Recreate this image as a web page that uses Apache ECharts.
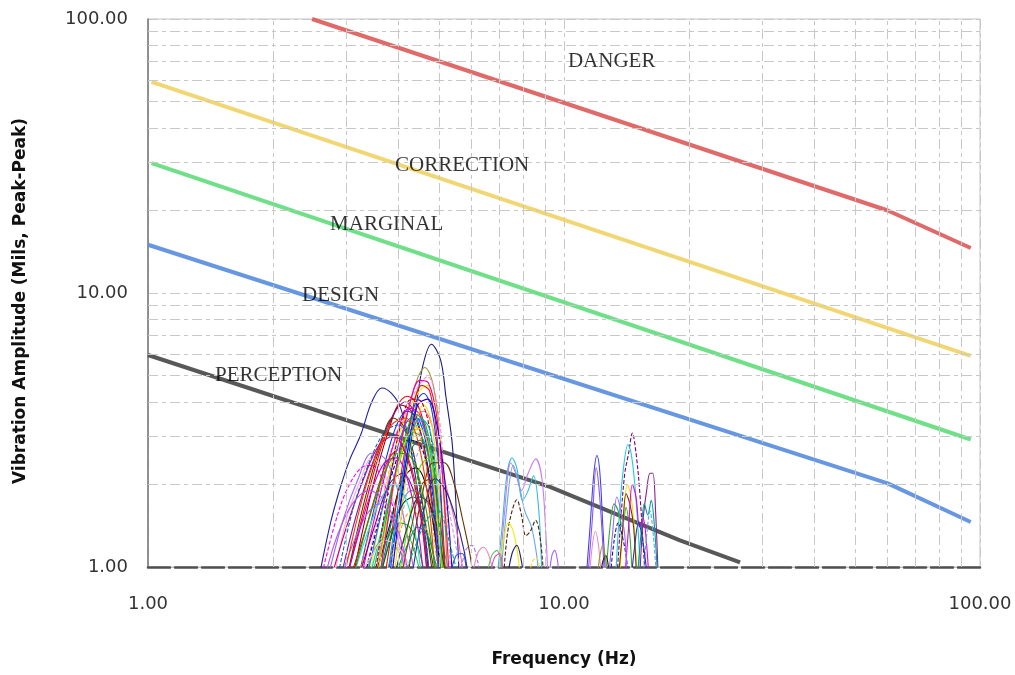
<!DOCTYPE html>
<html>
<head>
<meta charset="utf-8">
<script src="https://cdn.jsdelivr.net/npm/echarts@6/dist/echarts.min.js"></script>
<style>html,body{margin:0;padding:0;background:#fff}#c{width:1015px;height:675px}</style>
</head>
<body>
<div id="c"></div>
<script>
// ---- axis ranges / grid values ----
const axisMin = 1, axisMax = 100;
const minorGridX = [2,3,4,5,6,7,8,9,20,30,40,50,60,70,80,90];
const minorGridY = [2,3,4,5,6,7,8,9,20,30,40,50,60,70,80,90];

// ---- severity lines [frequency Hz, amplitude mils] ----
const dangerLine = [[2.48,100],[60,20],[95,14.6]];
const correctionLine = [[1.02,59],[95,5.9]];
const marginalLine = [[1.02,29.8],[95,2.92]];
const designLine = [[1.0,15],[60,2.02],[95,1.46]];
const perceptionLine = [[1.0,5.94],[9.25,1.96],[19,1.25],[26.5,1.04]];

// ---- zone labels ----
const zoneLabels = [
  {name:'DANGER', value:[10.22,69.7]},
  {name:'CORRECTION', value:[3.925,29.3]},
  {name:'MARGINAL', value:[2.74,17.86]},
  {name:'DESIGN', value:[2.346,9.83]},
  {name:'PERCEPTION', value:[1.449,5.02]}
];

const mainCluster = [
  [[3.75,0.9],[4.05,1.7],[4.35,3.3],[4.55,5.2],[4.8,6.5],[5.05,5.7],[5.2,4.2],[5.4,2.7],[5.6,0.9]],
  [[2.57,0.9],[2.75,1.46],[2.9,1.95],[3.05,2.45],[3.25,3.05],[3.45,4.0],[3.65,4.5],[3.85,4.3],[4.05,3.8],[4.3,2.6],[4.55,1.5],[4.75,0.9]],
  [[3.6,0.9],[3.9,2.0],[4.2,3.6],[4.45,4.9],[4.63,5.35],[4.85,4.6],[5.05,2.8],[5.25,0.9]],
  [[3.3,0.9],[3.7,1.9],[4.1,3.4],[4.4,4.4],[4.7,4.95],[4.95,4.0],[5.15,2.2],[5.35,0.9]],
  [[3.4,0.9],[3.8,2.2],[4.15,3.5],[4.45,4.3],[4.68,4.6],[4.9,3.9],[5.1,2.4],[5.3,0.9]],
  [[3.0,0.9],[3.3,1.6],[3.6,2.6],[3.95,3.8],[4.2,4.2],[4.45,3.9],[4.7,2.9],[4.95,1.6],[5.15,0.9]],
  [[3.1,0.9],[3.45,1.9],[3.8,3.2],[4.05,3.9],[4.3,3.7],[4.6,2.8],[4.85,1.6],[5.0,0.9]],
  [[3.2,0.9],[3.55,1.8],[3.9,3.1],[4.2,3.7],[4.5,3.4],[4.75,2.4],[4.95,1.3],[5.1,0.9]],
  [[2.9,0.9],[3.15,1.5],[3.5,2.5],[3.85,3.5],[4.15,4.0],[4.4,3.6],[4.65,2.5],[4.9,1.3],[5.0,0.9]],
  [[2.6,0.9],[2.8,1.4],[3.0,1.9],[3.25,2.3],[3.45,2.35],[3.7,2.0],[3.95,1.5],[4.2,0.9]],
  [[2.7,0.9],[2.95,1.5],[3.2,2.1],[3.45,2.6],[3.7,2.5],[3.95,2.0],[4.2,1.3],[4.4,0.9]],
  [[3.5,0.9],[3.75,1.25],[4.0,1.45],[4.25,1.4],[4.45,1.2],[4.65,0.9]],
  [[3.3,0.9],[3.55,1.2],[3.8,1.3],[4.0,1.15],[4.2,1.3],[4.4,1.1],[4.55,0.9]],
  [[3.4,0.9],[3.7,1.5],[4.0,2.4],[4.3,3.2],[4.55,3.3],[4.8,2.5],[5.0,1.3],[5.15,0.9]],
  [[3.6,0.9],[3.9,1.6],[4.2,2.5],[4.5,2.9],[4.75,2.6],[4.95,1.7],[5.15,0.9]],
  [[3.2,0.9],[3.5,1.6],[3.85,2.7],[4.15,3.4],[4.4,3.3],[4.65,2.4],[4.9,1.2],[5.0,0.9]],
  [[3.0,0.9],[3.3,1.7],[3.6,2.7],[3.88,3.5],[4.1,3.3],[4.35,2.6],[4.6,1.6],[4.85,0.9]],
  [[3.5,0.9],[3.8,1.4],[4.1,2.1],[4.4,2.3],[4.65,2.0],[4.9,1.3],[5.05,0.9]],
  [[2.8,0.9],[3.0,1.5],[3.25,2.1],[3.45,2.5],[3.65,2.3],[3.9,1.7],[4.1,1.1],[4.2,0.9]],
  [[3.6,0.9],[3.95,1.5],[4.3,1.9],[4.6,1.8],[4.85,1.5],[5.1,1.2],[5.35,0.9]],
  [[3.5,0.9],[3.9,2.0],[4.3,3.4],[4.6,3.7],[4.9,3.0],[5.2,2.0],[5.5,1.4],[5.75,0.9]],
  [[3.8,0.9],[4.1,1.6],[4.45,2.6],[4.75,2.9],[5.05,2.3],[5.3,1.6],[5.55,1.1],[5.7,0.9]],
  [[3.7,0.9],[4.0,1.9],[4.3,3.6],[4.55,4.6],[4.75,4.4],[4.95,3.0],[5.1,1.5],[5.2,0.9]],
  [[3.8,0.9],[4.1,2.2],[4.35,3.8],[4.6,4.3],[4.8,3.8],[5.0,2.3],[5.15,0.9]],
  [[3.45,0.9],[3.75,1.6],[4.05,2.5],[4.35,3.1],[4.6,2.9],[4.85,2.0],[5.05,1.1],[5.15,0.9]],
  [[3.25,0.9],[3.6,1.8],[3.95,3.0],[4.25,3.8],[4.5,3.6],[4.75,2.6],[4.95,1.3],[5.05,0.9]],
  [[3.9,0.9],[4.15,2.0],[4.4,3.3],[4.6,3.9],[4.8,3.4],[5.0,1.9],[5.15,0.9]],
  [[3.3,0.9],[3.6,1.5],[3.9,2.3],[4.2,2.9],[4.5,2.8],[4.8,2.0],[5.0,1.1],[5.1,0.9]],
  [[3.6,0.9],[3.85,1.3],[4.1,1.7],[4.35,1.8],[4.6,1.5],[4.8,1.1],[4.9,0.9]],
  [[3.1,0.9],[3.35,1.3],[3.65,1.8],[3.9,2.0],[4.15,1.8],[4.4,1.3],[4.55,0.9]],
  [[3.2,0.9],[3.5,1.4],[3.8,2.0],[4.1,2.2],[4.35,1.9],[4.6,1.4],[4.75,0.9]],
  [[3.05,0.9],[3.3,1.3],[3.55,1.9],[3.8,2.5],[4.05,2.7],[4.3,2.3],[4.55,1.5],[4.7,0.9]],
  [[3.35,0.9],[3.65,1.6],[4.0,2.8],[4.3,3.5],[4.55,3.4],[4.8,2.2],[5.0,0.9]],
  [[3.7,0.9],[4.0,1.3],[4.3,1.6],[4.55,1.5],[4.8,1.2],[4.95,0.9]],
  [[3.9,0.9],[4.2,1.2],[4.45,1.4],[4.7,1.3],[4.9,1.05],[5.0,0.9]],
  [[4.0,0.9],[4.25,1.5],[4.5,2.3],[4.72,2.5],[4.9,2.0],[5.05,1.2],[5.15,0.9]],
  [[3.9,0.9],[4.2,1.4],[4.5,1.8],[4.75,1.7],[5.0,1.3],[5.2,0.9]],
  [[2.9,0.9],[3.1,1.2],[3.35,1.55],[3.6,1.7],[3.85,1.5],[4.05,1.15],[4.15,0.9]],
  [[3.0,0.9],[3.2,1.3],[3.45,1.9],[3.7,2.4],[3.95,2.5],[4.2,2.1],[4.45,1.4],[4.6,0.9]],
  [[3.5,0.9],[3.8,2.0],[4.05,3.3],[4.3,4.1],[4.55,4.0],[4.8,2.9],[5.0,1.4],[5.1,0.9]],
  [[3.55,0.9],[3.85,1.9],[4.15,3.0],[4.4,3.6],[4.65,3.3],[4.9,2.1],[5.05,0.9]],
  [[3.2,0.9],[3.45,1.1],[3.7,1.25],[3.95,1.2],[4.2,1.05],[4.3,0.9]],
  [[4.05,0.9],[4.3,1.4],[4.55,2.0],[4.8,2.1],[5.0,1.6],[5.2,0.9]],
  [[3.75,0.9],[4.0,1.7],[4.25,2.8],[4.5,3.5],[4.75,3.2],[4.95,2.0],[5.1,0.9]],
  [[3.55,0.9],[3.85,1.8],[4.2,3.0],[4.5,3.2],[4.75,2.6],[5.0,1.3],[5.1,0.9]],
  [[5.6,0.9],[5.8,1.15],[6.0,1.2],[6.2,1.05],[6.3,0.9]],
  [[6.0,0.9],[6.2,1.12],[6.4,1.18],[6.6,1.1],[6.8,0.9]],
  [[5.3,0.9],[5.5,1.1],[5.7,1.12],[5.85,0.9]],
  [[4.3,0.9],[4.6,1.6],[4.9,2.1],[5.2,1.9],[5.5,1.5],[5.75,1.15],[5.9,0.9]],
  [[4.2,0.9],[4.55,1.8],[4.85,2.4],[5.15,2.4],[5.45,2.0],[5.7,1.5],[5.95,1.1],[6.05,0.9]],
  [[2.75,0.9],[3.0,1.4],[3.3,2.1],[3.6,2.8],[3.9,3.0],[4.2,2.5],[4.5,1.6],[4.7,0.9]],
  [[2.85,0.9],[3.1,1.6],[3.4,2.4],[3.7,3.1],[4.0,3.3],[4.3,2.7],[4.6,1.5],[4.75,0.9]],
  [[2.95,0.9],[3.25,1.7],[3.55,2.6],[3.85,3.3],[4.15,3.5],[4.45,2.9],[4.75,1.6],[4.9,0.9]],
  [[3.1,0.9],[3.4,1.5],[3.7,2.2],[4.0,2.6],[4.3,2.5],[4.6,1.8],[4.85,1.1],[4.95,0.9]],
  [[3.6,0.9],[3.95,2.3],[4.25,3.9],[4.5,4.8],[4.72,4.7],[4.95,3.5],[5.15,1.8],[5.3,0.9]],
  [[3.85,0.9],[4.2,2.6],[4.45,3.9],[4.7,4.1],[4.95,3.3],[5.2,1.9],[5.4,0.9]],
  [[2.65,0.9],[2.85,1.3],[3.1,1.7],[3.4,1.9],[3.7,1.75],[4.0,1.35],[4.25,0.9]],
  [[4.1,0.9],[4.4,1.2],[4.7,1.5],[5.0,1.6],[5.25,1.3],[5.45,1.05],[5.6,0.9]]
];
const midCluster = [
  [[6.9,0.9],[7.1,1.4],[7.3,2.2],[7.5,2.5],[7.7,2.3],[7.95,1.75],[8.2,1.9],[8.45,2.15],[8.7,1.6],[8.85,0.9]],
  [[7.0,0.9],[7.2,1.6],[7.45,2.4],[7.65,2.2],[7.9,1.9],[8.2,2.2],[8.55,2.48],[8.85,2.1],[9.05,1.3],[9.15,0.9]],
  [[7.05,0.9],[7.3,1.7],[7.55,2.35],[7.8,2.0],[8.05,1.6],[8.35,1.4],[8.6,1.1],[8.7,0.9]],
  [[7.15,0.9],[7.3,1.3],[7.5,1.6],[7.7,1.76],[7.9,1.55],[8.1,1.3],[8.3,1.35],[8.55,1.48],[8.75,1.3],[8.95,0.9]],
  [[6.95,0.9],[7.15,1.25],[7.35,1.45],[7.55,1.35],[7.75,1.1],[7.85,0.9]],
  [[7.3,0.9],[7.5,1.12],[7.7,1.2],[7.9,1.05],[8.0,0.9]],
  [[9.2,0.9],[9.35,1.1],[9.5,1.15],[9.65,1.05],[9.75,0.9]],
  [[6.5,0.9],[6.7,1.1],[6.9,1.15],[7.1,1.0],[7.2,0.9]],
  [[6.6,0.9],[6.8,1.08],[7.0,1.12],[7.15,0.9]],
  [[8.2,0.9],[8.4,1.05],[8.6,1.08],[8.8,0.9]]
];
const rightCluster = [
  [[11.3,0.9],[11.55,1.4],[11.8,2.2],[12.0,2.55],[12.2,2.2],[12.4,1.4],[12.6,0.9]],
  [[11.4,0.9],[11.7,1.5],[11.95,2.3],[12.15,1.9],[12.4,1.2],[12.5,0.9]],
  [[11.5,0.9],[11.7,1.2],[11.9,1.35],[12.1,1.2],[12.3,0.9]],
  [[13.4,0.9],[13.7,1.5],[14.0,2.2],[14.3,2.6],[14.6,3.08],[14.9,2.6],[15.2,1.9],[15.5,1.2],[15.7,0.9]],
  [[13.3,0.9],[13.6,1.6],[13.9,2.3],[14.25,2.8],[14.5,2.6],[14.8,2.0],[15.1,1.3],[15.3,0.9]],
  [[15.2,0.9],[15.5,1.5],[15.8,1.9],[16.1,2.2],[16.35,2.2],[16.6,1.6],[16.85,0.9]],
  [[12.6,0.9],[12.9,1.4],[13.2,1.7],[13.5,1.6],[13.8,1.4],[14.1,1.65],[14.4,1.3],[14.6,0.9]],
  [[13.6,0.9],[13.9,1.5],[14.2,2.0],[14.5,1.8],[14.8,1.3],[15.0,0.9]],
  [[13.5,0.9],[13.8,1.3],[14.1,1.85],[14.4,1.7],[14.7,1.4],[14.95,0.9]],
  [[12.9,0.9],[13.2,1.25],[13.5,1.45],[13.8,1.3],[14.1,1.1],[14.3,0.9]],
  [[15.0,0.9],[15.3,1.3],[15.6,1.7],[15.9,1.55],[16.2,1.75],[16.5,1.4],[16.8,0.9]],
  [[14.0,0.9],[14.3,1.4],[14.6,2.0],[14.9,1.8],[15.2,1.4],[15.5,1.5],[15.8,1.2],[16.0,0.9]],
  [[12.8,0.9],[13.1,1.35],[13.4,1.8],[13.7,1.6],[14.0,1.3],[14.2,0.9]],
  [[12.2,0.9],[12.4,1.05],[12.6,1.1],[12.8,1.0],[12.9,0.9]],
  [[12.0,0.9],[12.2,1.1],[12.4,1.2],[12.6,1.05],[12.75,0.9]],
  [[15.5,0.9],[15.8,1.3],[16.1,1.6],[16.4,1.3],[16.7,0.9]],
  [[14.5,0.9],[14.8,1.2],[15.1,1.45],[15.4,1.3],[15.7,1.05],[15.9,0.9]]
];
const mainColors = ['#1a1a80','#2020a0','#999933','#ff88cc','#ffee00','#ff0000','#990000','#0033ff','#7a1fa2','#ff00ff','#9966ff','#00aa00','#33cc33','#00cccc','#008080','#ff8800','#663300','#111111','#ffaadd','#8888bb','#ff66aa','#bb99ee','#ee1111','#1144ee','#22bb44','#dd00dd','#eedd00','#000080','#006600','#22dddd','#800080','#cc2222','#3366ff','#ff9933','#009999','#66dd00','#333333','#aa66ff','#cc00cc','#aa0000','#00bb00','#ffbbcc','#804000','#00aacc','#dddd00','#9977ee','#ee88bb','#3355ee','#2a2a90','#663300','#cc0066','#0066cc','#ff3300','#339900','#ee00aa','#2200cc','#bb55dd','#00aa88'];
const midColors = ['#33bbdd','#cc77ee','#66aaee','#552200','#eeee00','#1a1a80','#9966ff','#66bb66','#dd44dd','#eedd33'];
const rightColors = ['#4444dd','#8855ee','#ee88cc','#770077','#22ccdd','#882288','#33aa33','#eedd00','#773300','#1a1a80','#009999','#dd00dd','#9966ff','#222222','#999933','#55aaee','#2233aa'];

const gridStyle = {color:'#c8c8c8', width:1, type:[10,4,4,4]};

const series = [];
// minor grid lines (data values, drawn by the axes)
series.push({
  type:'line', data:[], silent:true, z:1, symbol:'none',
  markLine:{
    silent:true, symbol:['none','none'], label:{show:false},
    lineStyle:gridStyle, animation:false,
    data: minorGridX.map(v=>({xAxis:v})).concat(minorGridY.map(v=>({yAxis:v})))
  }
});
function zone(data, color){
  series.push({type:'line', data, symbol:'none', z:3, lineStyle:{color, width:4, opacity:0.92}, silent:true, animation:false});
}
zone(dangerLine,'#dd5c5c');
zone(correctionLine,'#f0d468');
zone(marginalLine,'#63dd7e');
zone(designLine,'#5b8ee0');
zone(perceptionLine,'#4a4a4a');

function addCurves(list, colors){
  list.forEach((pts,i)=>{
    series.push({type:'line', data:pts, symbol:'none', smooth:0.35, z:4, clip:true, silent:true, animation:false,
      lineStyle:{color:colors[i % colors.length], width:1.1, type:(i%6===3)?[4,2]:'solid'}});
  });
}
addCurves(mainCluster, mainColors);
addCurves(midCluster, midColors);
addCurves(rightCluster, rightColors);

series.push({
  type:'scatter', data:zoneLabels, symbolSize:0, z:6, silent:true, animation:false,
  label:{show:true, position:'right', distance:0, formatter:p=>p.name,
    fontFamily:'Liberation Serif', fontSize:21, color:'#000'}
});

const chart = echarts.init(document.getElementById('c'), null, {renderer:'canvas'});
chart.setOption({
  animation:false,
  backgroundColor:'#fff',
  grid:{left:148, right:35, top:19, bottom:108, show:true, borderColor:'#c4c4c4', borderWidth:1},
  xAxis:{
    type:'log', min:axisMin, max:axisMax, logBase:10,
    name:'Frequency (Hz)', nameLocation:'middle', nameGap:84,
    nameTextStyle:{fontFamily:'DejaVu Sans', fontWeight:'bold', fontSize:17, color:'#111'},
    axisLine:{show:true, lineStyle:{color:'#505050', width:2.5, type:[22,5]}},
    axisTick:{show:false},
    axisLabel:{formatter:v=>Number(v).toFixed(2), fontFamily:'DejaVu Sans', fontSize:18, color:'#333', margin:28},
    splitLine:{show:true, lineStyle:gridStyle}
  },
  yAxis:{
    type:'log', min:axisMin, max:axisMax, logBase:10,
    name:'Vibration Amplitude (Mils, Peak-Peak)', nameLocation:'middle', nameGap:119,
    nameTextStyle:{fontFamily:'DejaVu Sans', fontWeight:'bold', fontSize:17, color:'#111', padding:[0,16,0,0]},
    axisLine:{show:true, lineStyle:{color:'#777', width:1.5}},
    axisTick:{show:false},
    axisLabel:{formatter:v=>Number(v).toFixed(2), fontFamily:'DejaVu Sans', fontSize:18, color:'#333', margin:20},
    splitLine:{show:true, lineStyle:gridStyle}
  },
  series
});
</script>
</body>
</html>
